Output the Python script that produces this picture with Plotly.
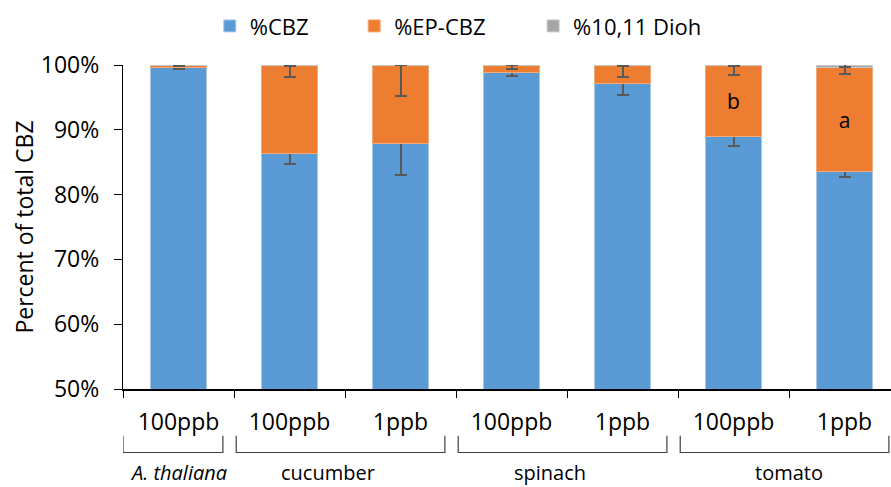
import plotly.graph_objects as go

# Treatment labels under each bar and the species groups they belong to
tick_labels = ["100ppb", "100ppb", "1ppb", "100ppb", "1ppb", "100ppb", "1ppb"]
groups = ["<i>A. thaliana</i>", "cucumber", "spinach", "tomato"]
group_members = [[0], [1, 2], [3, 4], [5, 6]]

# Composition of total CBZ (%) and standard deviations
cbz = [99.6, 86.4, 87.9, 98.8, 97.2, 88.9, 83.6]
cbz_err = [0.15, 1.7, 4.8, 0.55, 1.85, 1.45, 0.95]
ep_cbz = [0.35, 13.45, 12.05, 1.15, 2.75, 11.0, 15.95]
ep_cbz_err = [0.1, 1.65, 4.8, 0.6, 1.8, 1.45, 1.0]
dioh = [0.05, 0.15, 0.05, 0.05, 0.05, 0.1, 0.45]
dioh_err = [0.05, 0.1, 0.05, 0.05, 0.1, 0.1, 0.3]
ep_letters = ["", "", "", "", "", "b", "a"]

FONT = "Open Sans"
x = list(range(len(tick_labels)))

err_style = dict(type="data", color="#595959", thickness=2, width=6)

fig = go.Figure()
fig.add_trace(go.Bar(
    x=x, y=cbz, name="%CBZ", legend="legend", showlegend=True,
    marker=dict(color="#5B9BD5", line=dict(color="#A9C8E8", width=1)),
    error_y=dict(array=cbz_err, **err_style)))
fig.add_trace(go.Bar(
    x=x, y=ep_cbz, name="%EP-CBZ", legend="legend2", showlegend=True,
    marker=dict(color="#ED7D31", line=dict(color="#F4A97A", width=1)),
    error_y=dict(array=ep_cbz_err, **err_style),
    text=ep_letters, textposition="inside", insidetextanchor="middle", textangle=0,
    textfont=dict(family=FONT, size=21, color="black")))
fig.add_trace(go.Bar(
    x=x, y=dioh, name="%10,11 Dioh", legend="legend3", showlegend=True,
    marker=dict(color="#A5A5A5", line=dict(color="#C9C9C9", width=1)),
    error_y=dict(array=dioh_err, **err_style)))

# Brackets and species names beneath the treatment labels
bracket_top, bracket_bot = -0.144, -0.196
label_y = -0.257
line_style = dict(color="#404040", width=1.2)
for name, members in zip(groups, group_members):
    x0 = members[0] - 0.5 + 0.02
    x1 = members[-1] + 0.5 - 0.1
    if members[0] == 0:
        x0 = -0.5
    fig.add_shape(type="path", xref="x", yref="paper",
                  path=f"M {x0},{bracket_top} L {x0},{bracket_bot} L {x1},{bracket_bot} L {x1},{bracket_top}",
                  line=line_style)
    cx = (members[0] + members[-1]) / 2
    if len(members) == 2 and name != "tomato":
        cx -= 0.15
    fig.add_annotation(x=cx, y=label_y, xref="x", yref="paper", text=name, showarrow=False,
                       font=dict(family=FONT, size=20, color="black"), yanchor="middle", borderpad=0)

legend_common = dict(orientation="h", xanchor="left", y=1.12, yanchor="middle",
                     font=dict(family=FONT, size=22), itemclick=False, bgcolor="rgba(0,0,0,0)")

fig.update_layout(
    width=891, height=487,
    barmode="stack", bargap=0.5,
    showlegend=True,
    margin=dict(l=123, r=0, t=65, b=98),
    plot_bgcolor="white", paper_bgcolor="white",
    font=dict(family=FONT, size=22, color="black"),
    hovermode=False,
    legend=dict(x=0.113, **legend_common),
    legend2=dict(x=0.301, **legend_common),
    legend3=dict(x=0.534, **legend_common),
    xaxis=dict(range=[-0.5, -0.5 + 768 / 111], tickvals=x, ticktext=tick_labels, ticks="",
               showline=True, linecolor="black", linewidth=1.5, showgrid=False, zeroline=False,
               tickfont=dict(family=FONT, size=23), ticklabelstandoff=12,
               minor=dict(tickmode="linear", tick0=-0.5, dtick=1, ticks="outside", ticklen=7,
                          tickwidth=1.3, tickcolor="black", showgrid=False)),
    yaxis=dict(range=[50, 100], tickvals=[50, 60, 70, 80, 90, 100],
               ticktext=["50%", "60%", "70%", "80%", "90%", "100%"],
               ticks="outside", ticklen=8, tickwidth=1.3, tickcolor="black",
               showline=True, linecolor="black", linewidth=1.3, showgrid=False, zeroline=False,
               tickfont=dict(family=FONT, size=23), ticklabelstandoff=10,
               title=dict(text="Percent of total CBZ", font=dict(family=FONT, size=23), standoff=0)),
)

fig.write_html("out.html")
